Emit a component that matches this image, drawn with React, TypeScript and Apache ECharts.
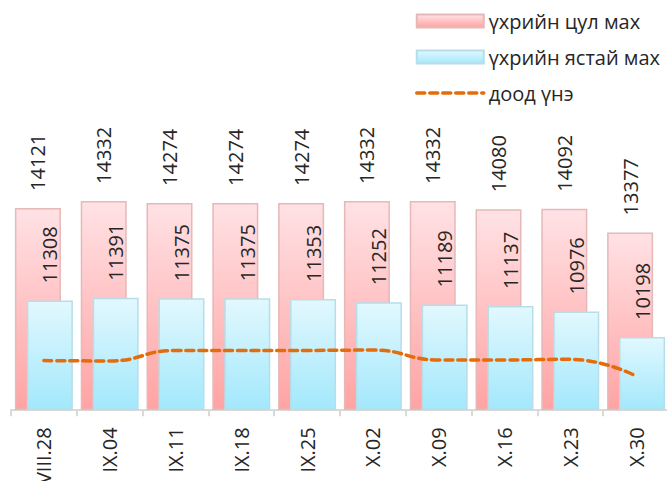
import React, { useEffect, useRef } from "react";
import * as echarts from "echarts";

const categories = ["VIII.28", "IX.04", "IX.11", "IX.18", "IX.25", "X.02", "X.09", "X.16", "X.23", "X.30"];
const solidMeat = [14121, 14332, 14274, 14274, 14274, 14332, 14332, 14080, 14092, 13377];
const boneMeat = [11308, 11391, 11375, 11375, 11353, 11252, 11189, 11137, 10976, 10198];
const lowPrice = [9480, 9470, 9790, 9790, 9790, 9800, 9500, 9500, 9520, 9010];

const seriesNames = ["үхрийн цул мах", "үхрийн ястай мах", "доод үнэ"];

const FONT = "'Open Sans', sans-serif";
const TEXT = "#262626";

export default function App() {
  const ref = useRef<HTMLDivElement>(null);
  useEffect(() => {
    if (!ref.current) return;
    const chart = echarts.init(ref.current, null, { renderer: "svg" });
    const labelCommon = {
      show: true,
      position: "top",
      rotate: 90,
      align: "left",
      verticalAlign: "middle",
      distance: 17,
      fontSize: 20,
      fontFamily: FONT,
      color: TEXT,
    };
    chart.setOption({
      animation: false,
      textStyle: { fontFamily: FONT },
      legend: {
        orient: "vertical",
        left: 410,
        top: 6,
        padding: 5,
        itemWidth: 67,
        itemHeight: 13,
        itemGap: 16,
        textStyle: { fontSize: 20, color: TEXT, fontFamily: FONT, lineHeight: 20 },
        data: [
          { name: seriesNames[0], icon: "rect" },
          { name: seriesNames[1], icon: "rect" },
          {
            name: seriesNames[2],
            itemStyle: { opacity: 0 },
            lineStyle: { width: 3.5, type: [8, 5], cap: "round", color: "#E46C0A" },
          },
        ],
      },
      grid: {
        left: 11,
        width: 658,
        top: 14.5,
        height: 394.8,
        containLabel: false,
        outerBoundsMode: "none",
      },
      xAxis: {
        type: "category",
        data: categories,
        boundaryGap: true,
        axisLine: { show: true, lineStyle: { color: "#D9D9D9", width: 2 } },
        axisTick: { show: true, length: 7, lineStyle: { color: "#D9D9D9", width: 2 } },
        axisLabel: {
          rotate: 90,
          margin: 18,
          fontSize: 20,
          fontFamily: FONT,
          color: TEXT,
          interval: 0,
        },
      },
      yAxis: {
        type: "value",
        min: 8000,
        max: 20000,
        show: false,
        splitLine: { show: false },
      },
      series: [
        {
          name: seriesNames[0],
          type: "bar",
          data: solidMeat,
          barWidth: 46,
          barGap: "-74%",
          itemStyle: {
            color: new echarts.graphic.LinearGradient(0, 0, 0, 1, [
              { offset: 0, color: "#FFE2E5" },
              { offset: 1, color: "#FFA3A3" },
            ]),
            borderColor: "#E6B8B7",
            borderWidth: 1.5,
          },
          label: labelCommon,
        },
        {
          name: seriesNames[1],
          type: "bar",
          data: boneMeat,
          barWidth: 46,
          barGap: "-74%",
          itemStyle: {
            color: new echarts.graphic.LinearGradient(0, 0, 0, 1, [
              { offset: 0, color: "#E2F8FE" },
              { offset: 1, color: "#A3E8FC" },
            ]),
            borderColor: "#B7DEE8",
            borderWidth: 1.5,
          },
          label: labelCommon,
        },
        {
          name: seriesNames[2],
          type: "line",
          data: lowPrice,
          smooth: 0.5,
          symbol: "none",
          lineStyle: { color: "#E46C0A", width: 3.5, type: [8, 5], cap: "round" },
          itemStyle: { color: "#E46C0A" },
          z: 5,
        },
      ],
    });
    return () => chart.dispose();
  }, []);
  return (
    <div
      ref={ref}
      style={{ position: "fixed", left: 0, top: 0, width: 667, height: 481, background: "#fff" }}
    />
  );
}
